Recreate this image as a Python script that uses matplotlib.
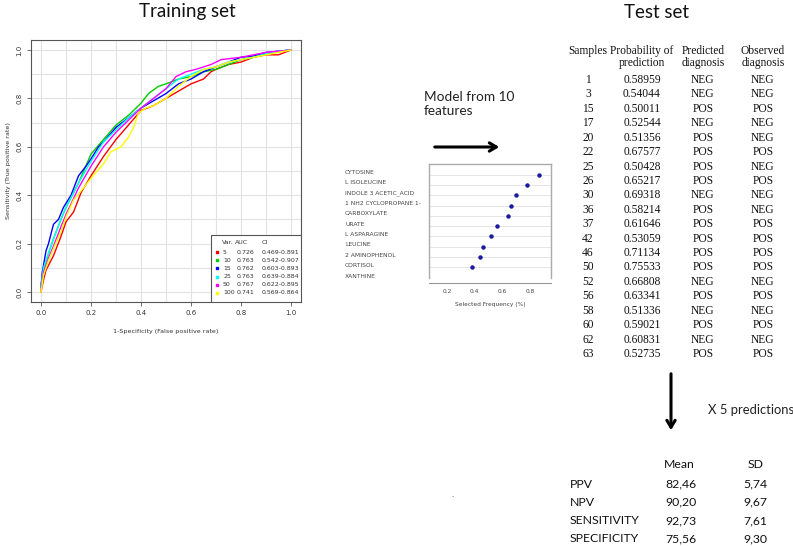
import matplotlib
matplotlib.use("Agg")
import matplotlib.pyplot as plt
from matplotlib.patches import FancyArrowPatch, Rectangle

W, H = 793, 546

# ROC curves of the training set
roc_vars = ["5", "10", "15", "25", "50", "100"]
roc_auc = ["0.726", "0.763", "0.762", "0.763", "0.767", "0.741"]
roc_ci = ["0.469-0.891", "0.542-0.907", "0.603-0.893", "0.639-0.884", "0.622-0.895", "0.569-0.864"]
roc_colors = ["#ff0000", "#00cc00", "#0000ff", "#00ffff", "#ff00ff", "#ffff00"]

fpr_5 = [0, 0.01, 0.02, 0.05, 0.08, 0.10, 0.13, 0.16, 0.20, 0.25, 0.30, 0.35, 0.40, 0.45, 0.50,
         0.55, 0.60, 0.65, 0.68, 0.70, 0.75, 0.80, 0.85, 0.90, 0.95, 1.0]
tpr_5 = [0, 0.05, 0.09, 0.15, 0.23, 0.29, 0.33, 0.41, 0.48, 0.56, 0.63, 0.69, 0.75, 0.77, 0.80,
         0.83, 0.86, 0.88, 0.91, 0.92, 0.94, 0.95, 0.97, 0.98, 0.98, 1.0]
fpr_10 = [0, 0.01, 0.03, 0.05, 0.08, 0.10, 0.15, 0.20, 0.25, 0.30, 0.35, 0.40, 0.43, 0.47, 0.50,
          0.55, 0.60, 0.65, 0.70, 0.75, 0.80, 0.85, 0.90, 0.95, 1.0]
tpr_10 = [0.03, 0.09, 0.16, 0.22, 0.30, 0.35, 0.45, 0.57, 0.63, 0.69, 0.73, 0.78, 0.82, 0.85, 0.86,
          0.88, 0.89, 0.91, 0.92, 0.94, 0.96, 0.97, 0.985, 0.995, 1.0]
fpr_15 = [0, 0.005, 0.02, 0.03, 0.05, 0.07, 0.09, 0.12, 0.15, 0.18, 0.20, 0.23, 0.25, 0.30, 0.35,
          0.40, 0.45, 0.50, 0.55, 0.60, 0.65, 0.70, 0.75, 0.80, 0.85, 0.90, 0.95, 1.0]
tpr_15 = [0.02, 0.08, 0.17, 0.20, 0.28, 0.30, 0.35, 0.40, 0.48, 0.52, 0.55, 0.60, 0.62, 0.68, 0.72,
          0.76, 0.79, 0.82, 0.86, 0.88, 0.91, 0.93, 0.95, 0.97, 0.975, 0.99, 0.995, 1.0]
fpr_25 = [0, 0.01, 0.03, 0.05, 0.08, 0.10, 0.15, 0.20, 0.25, 0.30, 0.35, 0.40, 0.45, 0.50, 0.55,
          0.60, 0.65, 0.70, 0.75, 0.80, 0.85, 0.90, 0.95, 1.0]
tpr_25 = [0.02, 0.10, 0.16, 0.22, 0.30, 0.35, 0.45, 0.54, 0.62, 0.67, 0.72, 0.76, 0.80, 0.84, 0.88,
          0.90, 0.92, 0.93, 0.95, 0.96, 0.97, 0.985, 0.995, 1.0]
fpr_50 = [0, 0.01, 0.03, 0.05, 0.08, 0.10, 0.15, 0.20, 0.25, 0.30, 0.35, 0.40, 0.45, 0.50, 0.54,
          0.58, 0.62, 0.68, 0.72, 0.80, 0.85, 0.90, 0.95, 1.0]
tpr_50 = [0.01, 0.08, 0.14, 0.19, 0.27, 0.32, 0.43, 0.52, 0.60, 0.66, 0.71, 0.76, 0.80, 0.84, 0.89,
          0.91, 0.92, 0.94, 0.96, 0.97, 0.98, 0.99, 0.995, 1.0]
fpr_100 = [0, 0.01, 0.03, 0.05, 0.08, 0.10, 0.13, 0.17, 0.20, 0.25, 0.28, 0.32, 0.35, 0.37, 0.39,
           0.42, 0.45, 0.50, 0.55, 0.60, 0.65, 0.70, 0.75, 0.80, 0.85, 0.90, 0.95, 1.0]
tpr_100 = [0.0, 0.07, 0.13, 0.18, 0.25, 0.31, 0.38, 0.43, 0.47, 0.53, 0.58, 0.60, 0.64, 0.68, 0.74,
           0.76, 0.77, 0.80, 0.85, 0.89, 0.92, 0.93, 0.95, 0.96, 0.97, 0.98, 0.99, 1.0]
roc_fpr = [fpr_5, fpr_10, fpr_15, fpr_25, fpr_50, fpr_100]
roc_tpr = [tpr_5, tpr_10, tpr_15, tpr_25, tpr_50, tpr_100]

# feature selection frequency
features = ["CYTOSINE", "L ISOLEUCINE", "INDOLE 3 ACETIC_ACID", "1 NH2 CYCLOPROPANE 1-\nCARBOXYLATE",
            "URATE", "L ASPARAGINE", "LEUCINE", "2 AMINOPHENOL", "CORTISOL", "XANTHINE"]
sel_freq = [0.86, 0.78, 0.70, 0.66, 0.64, 0.56, 0.52, 0.46, 0.44, 0.38]

# test set predictions
samples = ["1", "3", "15", "17", "20", "22", "25", "26", "30", "36",
           "37", "42", "46", "50", "52", "56", "58", "60", "62", "63"]
prob = ["0.58959", "0.54044", "0.50011", "0.52544", "0.51356", "0.67577", "0.50428", "0.65217",
        "0.69318", "0.58214", "0.61646", "0.53059", "0.71134", "0.75533", "0.66808", "0.63341",
        "0.51336", "0.59021", "0.60831", "0.52735"]
predicted = ["NEG", "NEG", "POS", "NEG", "POS", "POS", "POS", "POS", "NEG", "POS",
             "POS", "POS", "POS", "POS", "NEG", "POS", "NEG", "POS", "NEG", "POS"]
observed = ["NEG", "NEG", "POS", "NEG", "NEG", "POS", "NEG", "POS", "NEG", "NEG",
            "POS", "POS", "POS", "POS", "NEG", "POS", "NEG", "POS", "NEG", "POS"]

# summary over 5 predictions
metrics = ["PPV", "NPV", "SENSITIVITY", "SPECIFICITY"]
mean_vals = ["82,46", "90,20", "92,73", "75,56"]
sd_vals = ["5,74", "9,67", "7,61", "9,30"]


def fx(x):
    return x / W


def fy(y):
    return 1 - y / H


def box(l, t, r, b):
    return [fx(l), fy(b), (r - l) / W, (b - t) / H]


fig = plt.figure(figsize=(W / 100, H / 100), dpi=100)
sans = ["Lato", "DejaVu Sans"]
serif = ["Liberation Serif"]

fig.text(fx(187), fy(11), "Training set", family=sans, fontsize=13.5, ha="center", va="center", color="#111")
fig.text(fx(656), fy(12), "Test set", family=sans, fontsize=13.5, ha="center", va="center", color="#111")

# ---- ROC panel
ax = fig.add_axes(box(31, 40.3, 301, 301.7))
for xs, ys, c in zip(roc_fpr, roc_tpr, roc_colors):
    ax.plot(xs, ys, color=c, lw=1.0)
ax.set_xlim(-0.04, 1.04)
ax.set_ylim(-0.04, 1.04)
ax.set_xticks([0, 0.2, 0.4, 0.6, 0.8, 1.0])
ax.set_yticks([0, 0.2, 0.4, 0.6, 0.8, 1.0])
ax.set_xticklabels(["0.0", "0.2", "0.4", "0.6", "0.8", "1.0"])
ax.set_yticklabels(["0.0", "0.2", "0.4", "0.6", "0.8", "1.0"], rotation=90, va="center")
for v in [i / 10 for i in range(11)]:
    ax.axvline(v, color="#e2e2e2", lw=0.8, zorder=0)
    ax.axhline(v, color="#e2e2e2", lw=0.8, zorder=0)
ax.tick_params(labelsize=5, length=3, width=0.6, color="#555", labelcolor="#333", pad=3)
for s in ax.spines.values():
    s.set_color("#555")
    s.set_linewidth(0.8)
ax.set_xlabel("1-Specificity (False positive rate)", fontsize=4.6, color="#333", labelpad=9)
ax.set_ylabel("Sensitivity (True positive rate)", fontsize=4.6, color="#333", labelpad=4)

# legend drawn by hand
ax.add_patch(Rectangle((0.667, 0.0), 0.333, 0.255, transform=ax.transAxes,
                       facecolor="white", edgecolor="#555", lw=0.8, zorder=5))
inv = ax.transAxes.inverted()


def ac(px, py):
    return inv.transform(fig.transFigure.transform((fx(px), fy(py))))


lfs = 4.5
for px, t in [(222, "Var."), (235, "AUC"), (262, "CI")]:
    hx, hy = ac(px, 243)
    ax.text(hx, hy, t, transform=ax.transAxes, fontsize=lfs, color="#333", va="center", zorder=6)
for i, (v, a, ci, c) in enumerate(zip(roc_vars, roc_auc, roc_ci, roc_colors)):
    ry = 252 + 8.2 * i
    sx, sy = ac(217, ry)
    ax.plot([sx], [sy], "s", ms=2.0, color=c, transform=ax.transAxes, zorder=6, clip_on=False)
    for px, t in [(223, v), (237, a), (262, ci)]:
        tx, _ = ac(px, ry)
        ax.text(tx, sy, t, transform=ax.transAxes, fontsize=lfs, color="#333", va="center", zorder=6)

# ---- model arrow
fig.text(fx(424), fy(104), "Model from 10\nfeatures", family=sans, fontsize=9.8, va="center",
         color="#222", linespacing=1.2)
fig.add_artist(FancyArrowPatch((fx(432), fy(147)), (fx(502), fy(147)), transform=fig.transFigure,
                               arrowstyle="->,head_length=5,head_width=3", lw=2.2, color="black"))

# ---- dot plot
dax = fig.add_axes(box(429, 164, 551, 278))
ypos = list(range(len(sel_freq)))
for y in ypos:
    dax.axhline(y, color="#e6e6e6", lw=0.7, zorder=0)
dax.plot(sel_freq, ypos, "o", ms=2.2, color="#1a1aa0", zorder=3)
dax.set_xlim(0.07, 0.95)
dax.set_ylim(len(sel_freq) - 1 + 1.07, -1.07)
dax.set_yticks([])
dax.set_xticks([0.2, 0.4, 0.6, 0.8])
dax.tick_params(axis="x", labelsize=4.2, length=0, labelcolor="#444", pad=4)
for s in ["left", "top", "right"]:
    dax.spines[s].set_color("#aaaaaa")
    dax.spines[s].set_linewidth(1.0)
dax.spines["bottom"].set_position(("outward", 3.6))
dax.spines["bottom"].set_color("#999999")
dax.spines["bottom"].set_linewidth(0.8)
dax.set_xlabel("Selected Frequency (%)", fontsize=4.2, color="#444", labelpad=6)
line = 0
for name in features:
    for part in name.split("\n"):
        fig.text(fx(345), fy(172 + 10.4 * line), part, fontsize=4.3, color="#444", va="center")
        line += 1

# ---- test set table
col_x = [588, 642, 703, 763]
head1 = ["Samples", "Probability of", "Predicted", "Observed"]
head2 = ["", "prediction", "diagnosis", "diagnosis"]
for cx, h1, h2 in zip(col_x, head1, head2):
    fig.text(fx(cx), fy(51), h1, family=serif, fontsize=8.3, ha="center", va="center", color="#111")
    fig.text(fx(cx), fy(63), h2, family=serif, fontsize=8.3, ha="center", va="center", color="#111")
for i, row in enumerate(zip(samples, prob, predicted, observed)):
    ry = 80 + 14.42 * i
    for cx, val in zip(col_x, row):
        fig.text(fx(cx), fy(ry), val, family=serif, fontsize=8.3, ha="center", va="center", color="#111")

# ---- down arrow and summary
fig.add_artist(FancyArrowPatch((fx(671), fy(371)), (fx(671), fy(433)), transform=fig.transFigure,
                               arrowstyle="->,head_length=5,head_width=3", lw=2.2, color="black"))
fig.text(fx(708), fy(410), "X 5 predictions", family=sans, fontsize=9.4, va="center", color="#222")
fig.text(fx(452), fy(497), ".", fontsize=5, color="#333", ha="center")

fig.text(fx(679), fy(465), "Mean", family=sans, fontsize=8.8, ha="center", va="center", color="#111")
fig.text(fx(756), fy(465), "SD", family=sans, fontsize=8.8, ha="center", va="center", color="#111")
for i, (m, mv, sv) in enumerate(zip(metrics, mean_vals, sd_vals)):
    ry = 484 + 18.3 * i
    fig.text(fx(570), fy(ry), m, family=sans, fontsize=8.8, va="center", color="#111")
    fig.text(fx(681), fy(ry), mv, family=sans, fontsize=8.8, ha="center", va="center", color="#111")
    fig.text(fx(755), fy(ry), sv, family=sans, fontsize=8.8, ha="center", va="center", color="#111")

fig.savefig("out.png", dpi=100)
